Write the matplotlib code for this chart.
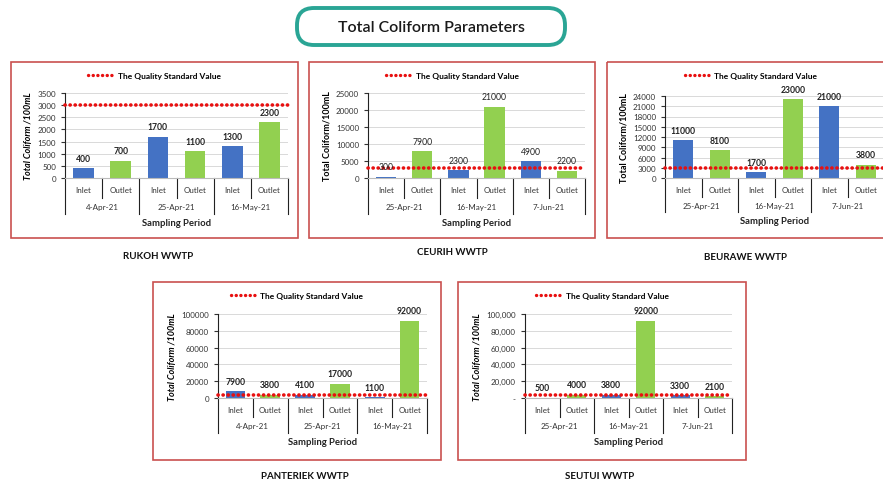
import matplotlib as mpl
mpl.use('Agg')
import matplotlib.pyplot as plt
from matplotlib.lines import Line2D
from matplotlib.patches import Rectangle, FancyBboxPatch
from matplotlib.ticker import FuncFormatter
import matplotlib.transforms as mtransforms

plt.rcParams['font.family'] = ['Lato', 'DejaVu Sans']

# sampling results, total coliform per 100 mL
standard_value = 3000

rukoh_dates = ['4-Apr-21', '25-Apr-21', '16-May-21']
rukoh_inlet = [400, 1700, 1300]
rukoh_outlet = [700, 1100, 2300]

ceurih_dates = ['25-Apr-21', '16-May-21', '7-Jun-21']
ceurih_inlet = [300, 2300, 4900]
ceurih_outlet = [7900, 21000, 2200]

beurawe_dates = ['25-Apr-21', '16-May-21', '7-Jun-21']
beurawe_inlet = [11000, 1700, 21000]
beurawe_outlet = [8100, 23000, 3800]

panteriek_dates = ['4-Apr-21', '25-Apr-21', '16-May-21']
panteriek_inlet = [7900, 4100, 1100]
panteriek_outlet = [3800, 17000, 92000]

seutui_dates = ['25-Apr-21', '16-May-21', '7-Jun-21']
seutui_inlet = [500, 3800, 3300]
seutui_outlet = [4000, 92000, 2100]

W, H = 883, 485
BLUE = '#4472C4'
GREEN = '#92D050'
RED = '#E81010'
BORDER = '#C9504F'
DOTS = (0, (0.05, 1.35))


def box(x0, y0, x1, y1):
    # pixel box (top-left origin) -> figure fraction rect
    return [x0 / W, 1 - y1 / H, (x1 - x0) / W, (y1 - y0) / H]


def plain(v, pos):
    return '%d' % v


def comma(v, pos):
    return '-' if v == 0 else '{:,.0f}'.format(v)


def panel(fig, page, rect, frame, dates, inlet, outlet, ymax, ystep, ylabel,
          italic, bold_labels, fmt, name, name_xy):
    ax = fig.add_axes(box(*rect))
    vals, cols, cats = [], [], []
    for i, o in zip(inlet, outlet):
        vals += [i, o]
        cols += [BLUE, GREEN]
        cats += ['Inlet', 'Outlet']
    x = list(range(len(vals)))
    bars = ax.bar(x, vals, width=0.56, color=cols, zorder=2)
    for b, v in zip(bars, vals):
        ax.annotate(str(v), (b.get_x() + b.get_width() / 2, v),
                    xytext=(0, 4), textcoords='offset points',
                    ha='center', va='bottom', fontsize=6.2,
                    fontweight='bold' if bold_labels else 'normal',
                    color='#222222', annotation_clip=False, zorder=4)
    ax.axhline(standard_value, color=RED, lw=2.6, ls=DOTS,
               dash_capstyle='round', zorder=3, clip_on=False)

    ax.set_xlim(-0.5, len(vals) - 0.5)
    ax.set_ylim(0, ymax)
    ax.set_yticks(range(0, ymax + 1, ystep))
    ax.yaxis.set_major_formatter(FuncFormatter(fmt))
    ax.tick_params(axis='y', labelsize=5.8, length=3, width=0.8,
                   direction='out', colors='#333333', labelcolor='#333333')
    ax.tick_params(axis='x', bottom=False, labelbottom=False)
    ax.grid(axis='y', color='#D9D9D9', lw=0.7, zorder=0)
    for s in ['top', 'right']:
        ax.spines[s].set_visible(False)
    ax.spines['left'].set_color('#222222')
    ax.spines['bottom'].set_color('#BBBBBB')
    ax.set_ylabel(ylabel, fontsize=6.5, fontweight='bold',
                  style='italic' if italic else 'normal', labelpad=3)

    # two-level category axis below the bars
    tr = mtransforms.blended_transform_factory(ax.transData, ax.transAxes)
    for xi, c in zip(x, cats):
        ax.text(xi, -0.14, c, transform=tr, ha='center', va='center',
                fontsize=5.8, color='#333333')
    for k, d in enumerate(dates):
        ax.text(2 * k + 0.5, -0.33, d, transform=tr, ha='center',
                va='center', fontsize=5.8, color='#333333')
    for k in range(len(vals) + 1):
        edge = k - 0.5
        depth = -0.42 if k % 2 == 0 else -0.23
        ax.plot([edge, edge], [0, depth], transform=tr, color='#222222',
                lw=0.8, clip_on=False)
    ax.text(0.5, -0.52, 'Sampling Period', transform=ax.transAxes,
            ha='center', va='center', fontsize=6.8, fontweight='bold',
            color='#222222')

    # red frame, legend and plant name on the page layer
    fx0, fy0, fx1, fy1 = frame
    page.add_patch(Rectangle((fx0, fy0), fx1 - fx0, fy1 - fy0, fill=False,
                             edgecolor=BORDER, lw=1.2))
    handle = Line2D([], [], color=RED, lw=2.4, ls=DOTS,
                    dash_capstyle='round')
    fig.legend([handle], ['The Quality Standard Value'], loc='center',
               bbox_to_anchor=((fx0 + fx1) / 2 / W, 1 - (fy0 + 13) / H),
               frameon=False, handlelength=3.0, handletextpad=0.6,
               prop={'size': 6.0, 'weight': 'bold'})
    page.text(name_xy[0], name_xy[1], name, ha='center', va='center',
              fontsize=7, fontweight='bold', color='#111111')
    return ax


fig = plt.figure(figsize=(W / 100, H / 100), dpi=100)

# full-page layer in pixel units for frames, names and heading
page = fig.add_axes([0, 0, 1, 1], zorder=-1)
page.set_xlim(0, W)
page.set_ylim(H, 0)
page.axis('off')

panel(fig, page, (65, 94, 288, 179), (11, 63, 298, 239), rukoh_dates,
      rukoh_inlet, rukoh_outlet, 3500, 500, 'Total Coliform /100mL',
      True, True, plain, 'RUKOH WWTP', (158, 257))
panel(fig, page, (368, 94, 585, 179), (309, 63, 595, 239), ceurih_dates,
      ceurih_inlet, ceurih_outlet, 25000, 5000, 'Total Coliform/100mL',
      False, False, plain, 'CEURIH WWTP', (452, 253))
panel(fig, page, (665, 97, 884, 179), (607, 63, 895, 239), beurawe_dates,
      beurawe_inlet, beurawe_outlet, 24000, 3000, 'Total Coliform/100mL',
      False, True, plain, 'BEURAWE WWTP', (746, 258))
panel(fig, page, (218, 315, 427, 399), (153, 283, 441, 461), panteriek_dates,
      panteriek_inlet, panteriek_outlet, 100000, 20000,
      'Total Coliform /100mL', True, True, plain, 'PANTERIEK WWTP', (305, 477))
panel(fig, page, (525, 315, 732, 399), (458, 283, 746, 461), seutui_dates,
      seutui_inlet, seutui_outlet, 100000, 20000, 'Total Coliform /100mL',
      True, True, comma, 'SEUTUI WWTP', (600, 477))

# heading badge
page.add_patch(FancyBboxPatch((297, 9), 268, 37,
                              boxstyle='round,pad=0,rounding_size=17',
                              facecolor='white', edgecolor='#2AA595', lw=2.8))
page.text(431, 28, 'Total Coliform Parameters', ha='center', va='center',
          fontsize=11.5, fontweight='semibold', color='#1A1A1A')

fig.savefig('out.png', dpi=100)
